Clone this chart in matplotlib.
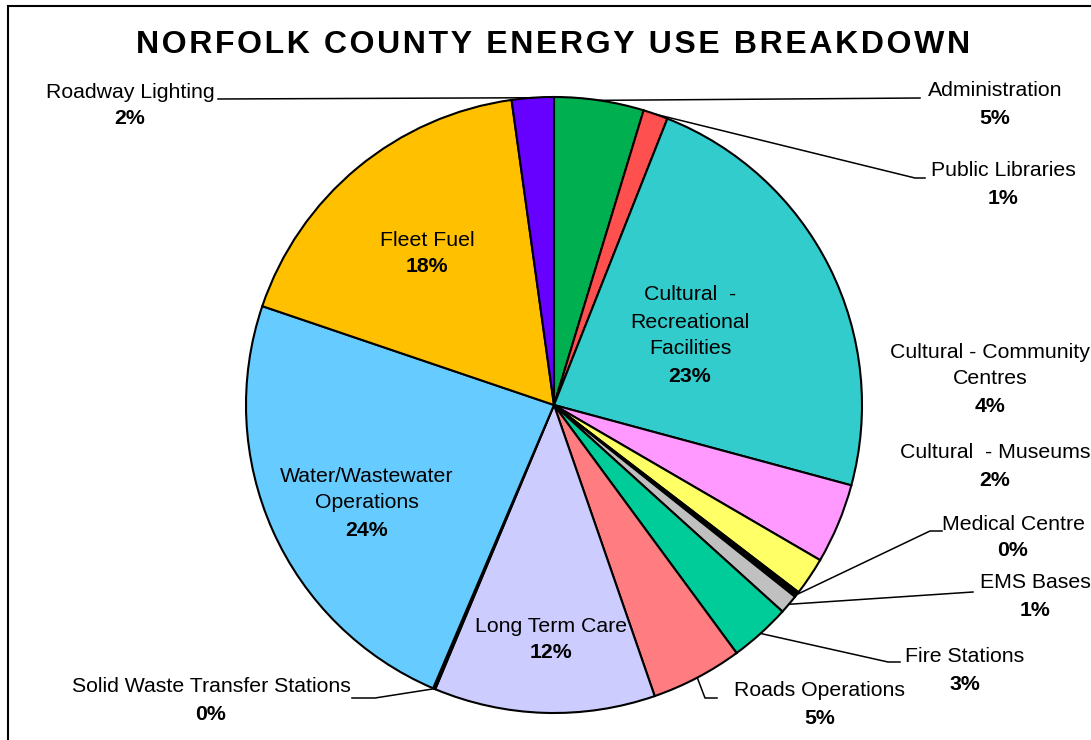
import numpy as np
import matplotlib
matplotlib.use("Agg")
import matplotlib.pyplot as plt
from matplotlib.patches import Rectangle

plt.rcParams['font.family'] = ['Liberation Sans', 'DejaVu Sans']

# categories in clockwise order from 12 o'clock
labels = ['Administration', 'Public Libraries', 'Cultural  -\nRecreational\nFacilities',
          'Cultural - Community\nCentres', 'Cultural  - Museums', 'Medical Centre',
          'EMS Bases', 'Fire Stations', 'Roads Operations', 'Long Term Care',
          'Solid Waste Transfer Stations', 'Water/Wastewater\nOperations',
          'Fleet Fuel', 'Roadway Lighting']
shares = [4.7, 1.3, 23.2, 4.2, 2.0, 0.3, 1.0, 3.2, 4.8, 11.6, 0.12, 23.78, 17.6, 2.2]
colors = ['#00B050', '#FF5050', '#33CCCC', '#FF99FF', '#FFFF66', '#000000',
          '#C0C0C0', '#00CC99', '#FF7C80', '#CCCCFF', '#000000', '#66CCFF',
          '#FFC000', '#6600FF']

# label layout (image pixels): text centre x, first line y, leader elbow (or None)
label_pos = [
    (995, 91, [(920, 98)]),
    (1003, 171, [(915, 178), (925, 178)]),
    (690, 295, None),
    (990, 352, None),
    (995, 453, None),
    (1013, 524, [(930, 531), (942, 531)]),
    (1035, 583, [(973, 592)]),
    (965, 657, [(888, 662), (900, 662)]),
    (820, 691, [(705, 698), (717, 698)]),
    (551, 626, None),
    (211, 687, [(375, 698), (352, 698)]),
    (367, 476, None),
    (427, 240, None),
    (130, 92, [(218, 99)]),
]

W, H = 1091, 740
fig = plt.figure(figsize=(W / 100, H / 100), dpi=100)
ax = fig.add_axes([0, 0, 1, 1])

cx, cy, R = 554, 405, 308
wedges, _ = ax.pie(shares, colors=colors, startangle=270, counterclock=True,
                   center=(cx, cy), radius=R,
                   wedgeprops=dict(edgecolor='black', linewidth=1.5))
ax.set_xlim(0, W)
ax.set_ylim(H, 0)
ax.set_aspect('equal')
ax.axis('off')

total = sum(shares)
line_h = 27
for w, lab, v, (tx, ty, elbow) in zip(wedges, labels, shares, label_pos):
    pct = '%d%%' % round(v / total * 100)
    lines = lab.split('\n')
    for i, ln in enumerate(lines):
        ax.text(tx, ty + i * line_h, ln, ha='center', va='center', fontsize=15.3)
    ax.text(tx, ty + len(lines) * line_h, pct, ha='center', va='center',
            fontsize=15.3, fontweight='bold')
    if elbow:
        mid = np.deg2rad((w.theta1 + w.theta2) / 2)
        xs = [cx + R * np.cos(mid)] + [p[0] for p in elbow]
        ys = [cy + R * np.sin(mid)] + [p[1] for p in elbow]
        ax.plot(xs, ys, color='black', linewidth=1.1)

title = 'NORFOLK COUNTY ENERGY USE BREAKDOWN'
ax.text(553, 45, '\u200a'.join(title), ha='center', va='center',
        fontsize=23, fontweight='bold')

fig.patches.append(Rectangle((8 / W, -0.1), 1.2, (H - 6) / H + 0.1,
                             transform=fig.transFigure, fill=False,
                             edgecolor='black', linewidth=1.5))

fig.savefig('out.png', dpi=100)
